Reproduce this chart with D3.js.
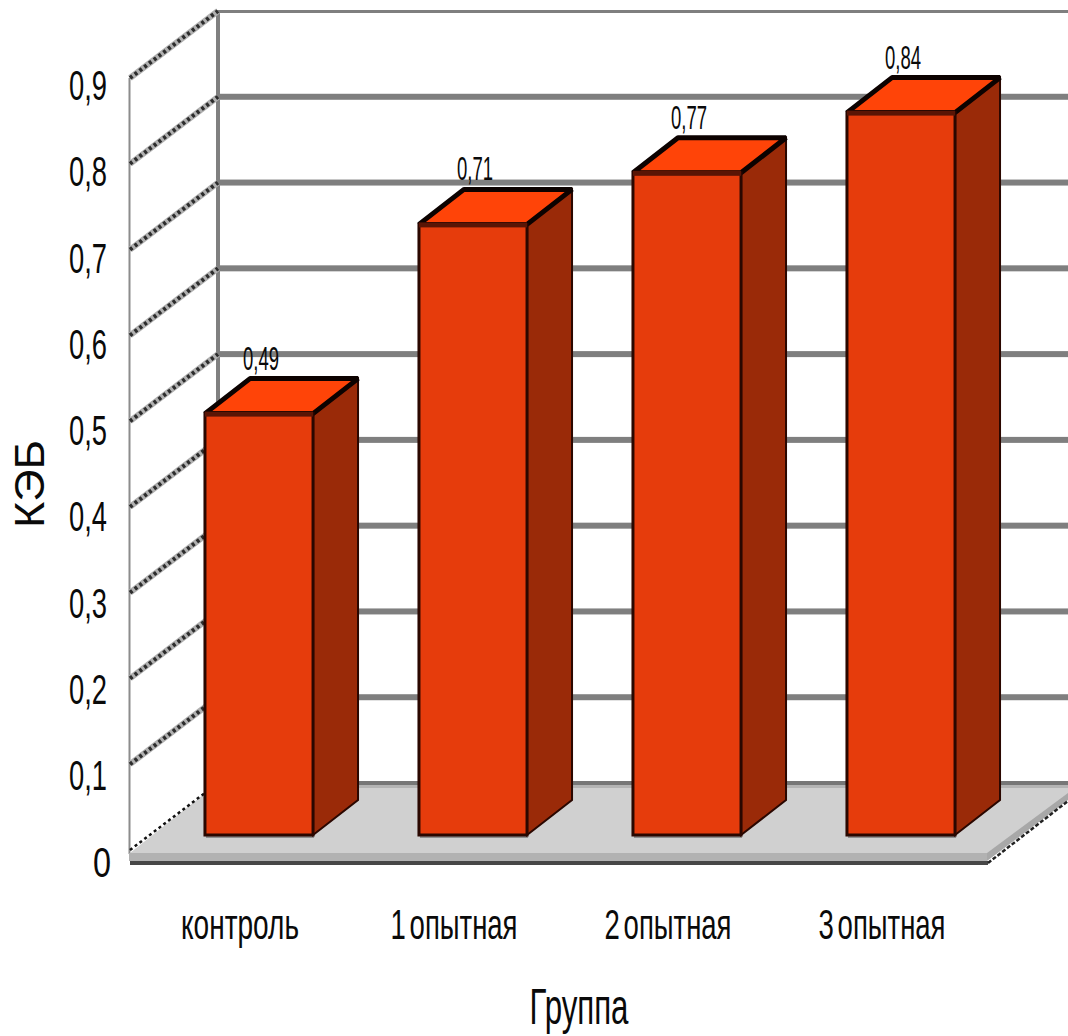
<!DOCTYPE html>
<html>
<head>
<meta charset="utf-8">
<script src="https://cdn.jsdelivr.net/npm/d3@7/dist/d3.min.js"></script>
<style>
html,body{margin:0;padding:0;background:#fff;overflow:hidden}
text{font-family:"Liberation Sans",Arial,sans-serif;fill:#0a0a0a}
</style>
</head>
<body>
<svg id="chart" width="1068" height="1036"></svg>
<script>
// Feed conversion values per group
const categories = ["контроль", "1 опытная", "2 опытная", "3 опытная"];
const values = [0.49, 0.71, 0.77, 0.84];
const valueLabels = ["0,49", "0,71", "0,77", "0,84"];
const tickValues = [0, 0.1, 0.2, 0.3, 0.4, 0.5, 0.6, 0.7, 0.8, 0.9];
const tickLabels = ["0", "0,1", "0,2", "0,3", "0,4", "0,5", "0,6", "0,7", "0,8", "0,9"];

const svg = d3.select("#chart");

// Front plane of the 3D box; wall and bar planes are offset from it
const y = d3.scaleLinear().domain([0, 0.9]).range([850, 78]);
const barY = d3.scaleLinear().domain([0, 0.9]).range([835, 61]);
const x = d3.scaleBand().domain(categories).range([152, 1008])
  .paddingInner(0.495).paddingOuter(0.2475);

const wallDx = 88, wallDy = -67;
const barDx = 45, barDy = -35;
const pts = a => a.map(p => p.join(",")).join(" ");

// Left side wall and back wall edges
svg.append("line").attr("x1", 129.5).attr("x2", 129.5).attr("y1", y(0.9)).attr("y2", y(0) + 4)
  .attr("stroke", "#8c8c8c").attr("stroke-width", 2);
svg.append("line").attr("x1", 130 + wallDx).attr("x2", 130 + wallDx)
  .attr("y1", y(0.9) + wallDy - 1).attr("y2", y(0) + wallDy)
  .attr("stroke", "#808080").attr("stroke-width", 4);

// Floor slab
svg.append("polygon").attr("fill", "#d0d0d0")
  .attr("points", pts([[130, 853], [218, 783], [1068, 783], [1068, 795], [987, 855], [130, 855]]));
svg.append("rect").attr("x", 129).attr("y", 853).attr("width", 858).attr("height", 8).attr("fill", "#b2b2b2");
svg.append("rect").attr("x", 130).attr("y", 861).attr("width", 858).attr("height", 4).attr("fill", "#474747");
svg.append("polygon").attr("fill", "#a8a8a8")
  .attr("points", pts([[987, 853], [1068, 793], [1068, 800], [987, 861]]));
svg.append("line").attr("x1", 988).attr("y1", 863).attr("x2", 1068).attr("y2", 801)
  .attr("stroke", "#222").attr("stroke-width", 2.5).attr("stroke-dasharray", "4 2");

// Back wall gridlines
svg.append("g").selectAll("rect").data(tickValues).join("rect")
  .attr("x", 130 + wallDx)
  .attr("width", 1068 - 130 - wallDx)
  .attr("y", d => y(d) + wallDy - (d === 0 ? 2 : d === 0.9 ? 1 : 3))
  .attr("height", d => (d === 0 ? 4 : d === 0.9 ? 3 : 6))
  .attr("fill", d => (d === 0 ? "#777" : "#7f7f7f"));
svg.append("rect").attr("x", 218).attr("y", y(0) + wallDy + 2).attr("width", 850).attr("height", 3).attr("fill", "#b4b4b4");

// Hatched tick lines on the side wall
const sideTicks = svg.append("g");
sideTicks.selectAll("line.under").data(tickValues.slice(1)).join("line")
  .attr("class", "under")
  .attr("x1", 130).attr("x2", 130 + wallDx)
  .attr("y1", d => y(d)).attr("y2", d => y(d) + wallDy)
  .attr("stroke", "#b0b0b0").attr("stroke-width", 6);
sideTicks.selectAll("line.over").data(tickValues.slice(1)).join("line")
  .attr("class", "over")
  .attr("x1", 130).attr("x2", 130 + wallDx)
  .attr("y1", d => y(d)).attr("y2", d => y(d) + wallDy)
  .attr("stroke", "#2c2c2c").attr("stroke-width", 4).attr("stroke-dasharray", "3 3");
sideTicks.append("line")
  .attr("x1", 130).attr("x2", 130 + wallDx)
  .attr("y1", y(0)).attr("y2", y(0) + wallDy)
  .attr("stroke", "#111").attr("stroke-width", 2.5).attr("stroke-dasharray", "3 3");

// 3D bars: contact shadow, side, top and front faces
const bars = svg.append("g").selectAll("g").data(categories).join("g");
const dark = "#2a0700";

bars.append("rect")
  .attr("x", c => x(c) + 1).attr("y", barY(0)).attr("width", x.bandwidth()).attr("height", 3)
  .attr("fill", "#8f8f8f");

bars.append("polygon").attr("fill", "#9a2a08").attr("stroke", dark).attr("stroke-width", 2)
  .attr("points", (c, i) => {
    const r = x(c) + x.bandwidth();
    return pts([[r, barY(values[i])], [r + barDx, barY(values[i]) + barDy],
                [r + barDx, barY(0) + barDy], [r, barY(0)]]);
  });

bars.append("polygon").attr("fill", "#ff4408").attr("stroke", "#0c0200").attr("stroke-width", 5)
  .attr("stroke-linejoin", "bevel")
  .attr("points", (c, i) => {
    const l = x(c), r = l + x.bandwidth(), t = barY(values[i]);
    return pts([[l, t], [l + barDx, t + barDy], [r + barDx, t + barDy], [r, t]]);
  });

bars.append("rect").attr("fill", "#e63c0c").attr("stroke", dark).attr("stroke-width", 3)
  .attr("x", c => x(c)).attr("width", x.bandwidth())
  .attr("y", (c, i) => barY(values[i]))
  .attr("height", (c, i) => barY(0) - barY(values[i]));

bars.append("rect").attr("fill", "#5a1505")
  .attr("x", c => x(c)).attr("width", x.bandwidth())
  .attr("y", (c, i) => barY(values[i]) - 2).attr("height", 5);

// Value labels above each bar
bars.append("text")
  .attr("text-anchor", "middle").attr("font-size", 33)
  .attr("x", c => x(c) + x.bandwidth() / 2 + 2)
  .attr("y", (c, i) => barY(values[i]) + barDy - 9)
  .attr("textLength", 36).attr("lengthAdjust", "spacingAndGlyphs")
  .text((c, i) => valueLabels[i]);

// Value axis labels
svg.append("g").selectAll("text").data(tickValues).join("text")
  .attr("text-anchor", "end").attr("font-size", 42)
  .attr("x", d => (d === 0 ? 111 : 107))
  .attr("y", d => y(d) + 22 + (0.9 - d) * 5)
  .attr("textLength", d => (d === 0 ? 18 : 38)).attr("lengthAdjust", "spacingAndGlyphs")
  .text((d, i) => tickLabels[i]);

// Category labels, tightly set with narrow word gaps
svg.append("g").selectAll("text").data(categories).join("text")
  .attr("text-anchor", "middle").attr("font-size", 43)
  .attr("word-spacing", -6)
  .attr("x", c => x(c) + x.bandwidth() / 2 - 19)
  .attr("y", 939)
  .attr("textLength", (c, i) => (i === 0 ? 118 : 127)).attr("lengthAdjust", "spacingAndGlyphs")
  .text(c => c);

// Axis titles
svg.append("text").attr("text-anchor", "middle").attr("font-size", 50)
  .attr("x", 579).attr("y", 1024)
  .attr("textLength", 99).attr("lengthAdjust", "spacingAndGlyphs")
  .text("Группа");
svg.append("text").attr("text-anchor", "middle").attr("font-size", 43)
  .attr("transform", "translate(44,484) rotate(-90)")
  .attr("textLength", 88).attr("lengthAdjust", "spacingAndGlyphs")
  .text("КЭБ");
</script>
</body>
</html>
